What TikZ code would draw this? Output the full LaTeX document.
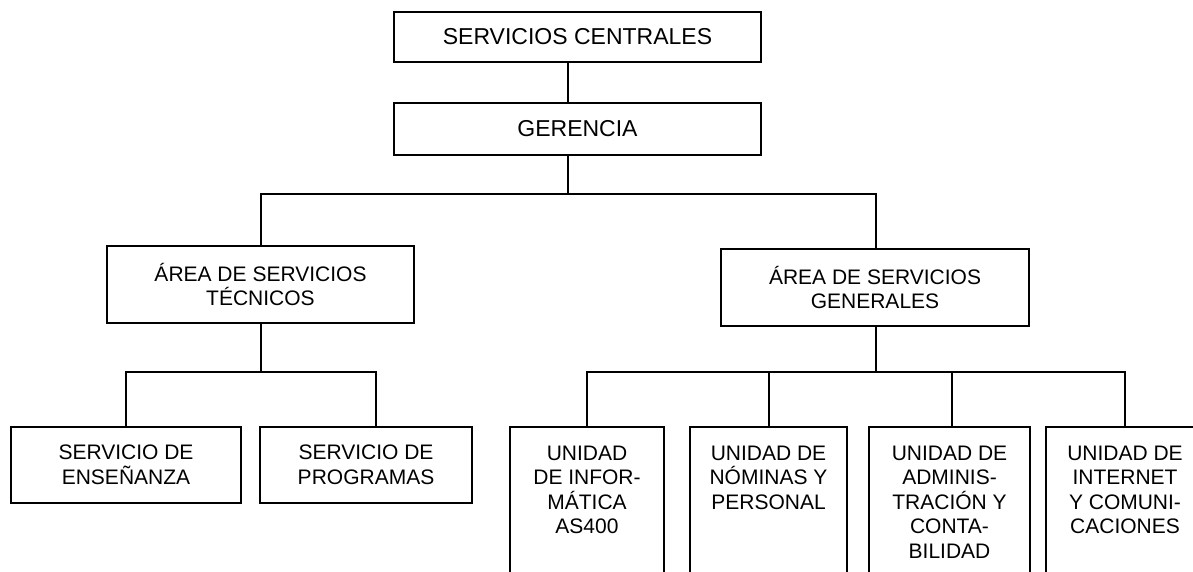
\documentclass[tikz,border=0pt]{standalone}
\usepackage{fontspec}
\setmainfont{Liberation Sans}
\newcommand\boxfont{\fontsize{21}{24.5}\selectfont}
\newcommand\topfont{\fontsize{23}{26}\selectfont}
\begin{document}
\begin{tikzpicture}[x=1pt,y=-1pt,
  box/.style={draw, line width=1.6pt, inner sep=0pt, outer sep=0pt, align=center, font=\boxfont},
  topbox/.style={box, font=\topfont},
  utext/.style={anchor=north, inner sep=0pt, outer sep=0pt, align=center, font=\boxfont},
  conn/.style={line width=1.6pt}]
\useasboundingbox (0,0) rectangle (1193,571);
\clip (0,0) rectangle (1193,571);
% boxes
\node[topbox, minimum width=367pt, minimum height=50pt] (sc) at (577.5,37) {SERVICIOS CENTRALES};
\node[topbox, minimum width=367pt, minimum height=52pt] (ger) at (577.5,129) {GERENCIA};
\node[box, minimum width=307pt, minimum height=77pt] (tec) at (260.5,284.5) {ÁREA DE SERVICIOS\\TÉCNICOS};
\node[box, minimum width=308pt, minimum height=77pt] (gen) at (875,287.5) {ÁREA DE SERVICIOS\\GENERALES};
\node[box, minimum width=230pt, minimum height=76pt] (ens) at (126,465) {SERVICIO DE\\ENSEÑANZA};
\node[box, minimum width=212pt, minimum height=76pt] (prog) at (366,465) {SERVICIO DE\\PROGRAMAS};
\node[box, minimum width=154pt, minimum height=193pt] (u1) at (587,523.5) {};
\node[box, minimum width=157pt, minimum height=193pt] (u2) at (768.5,523.5) {};
\node[box, minimum width=161pt, minimum height=193pt] (u3) at (949.5,523.5) {};
\node[box, minimum width=158pt, minimum height=193pt] (u4) at (1125,523.5) {};
\node[utext, yshift=-19pt] (t1) at (u1.north) {UNIDAD\\DE INFOR-\\MÁTICA\\AS400};
\node[utext, yshift=-19pt] (t2) at (u2.north) {UNIDAD DE\\NÓMINAS Y\\PERSONAL};
\node[utext, yshift=-19pt] (t3) at (u3.north) {UNIDAD DE\\ADMINIS-\\TRACIÓN Y\\CONTA-\\BILIDAD};
\node[utext, yshift=-19pt] (t4) at (u4.north) {UNIDAD DE\\INTERNET\\Y COMUNI-\\CACIONES};
% junction coordinates
\coordinate (j1) at (568,194);
\coordinate (jl) at (261,194);
\coordinate (jr) at (876,194);
\coordinate (k) at (261,372);
\coordinate (kp) at (376,372);
\coordinate (m) at (876,372);
\coordinate (m1) at (587,372);
\coordinate (m2) at (769,372);
\coordinate (m3) at (952,372);
\coordinate (m4) at (1125,372);
% connectors
\draw[conn] (sc.south -| j1) -- (ger.north -| j1);
\draw[conn] (ger.south -| j1) -- (j1);
\draw[conn] (tec.north -| jl) -- (jl) -- (jr) -- (gen.north -| jr);
\draw[conn] (tec.south -| k) -- (k);
\draw[conn] (ens.north) -- (ens.north |- k) -- (kp) -- (prog.north -| kp);
\draw[conn] (gen.south -| m) -- (m);
\draw[conn] (u1.north -| m1) -- (m1) -- (m4) -- (u4.north -| m4);
\draw[conn] (u2.north -| m2) -- (m2);
\draw[conn] (u3.north -| m3) -- (m3);
\end{tikzpicture}
\end{document}
